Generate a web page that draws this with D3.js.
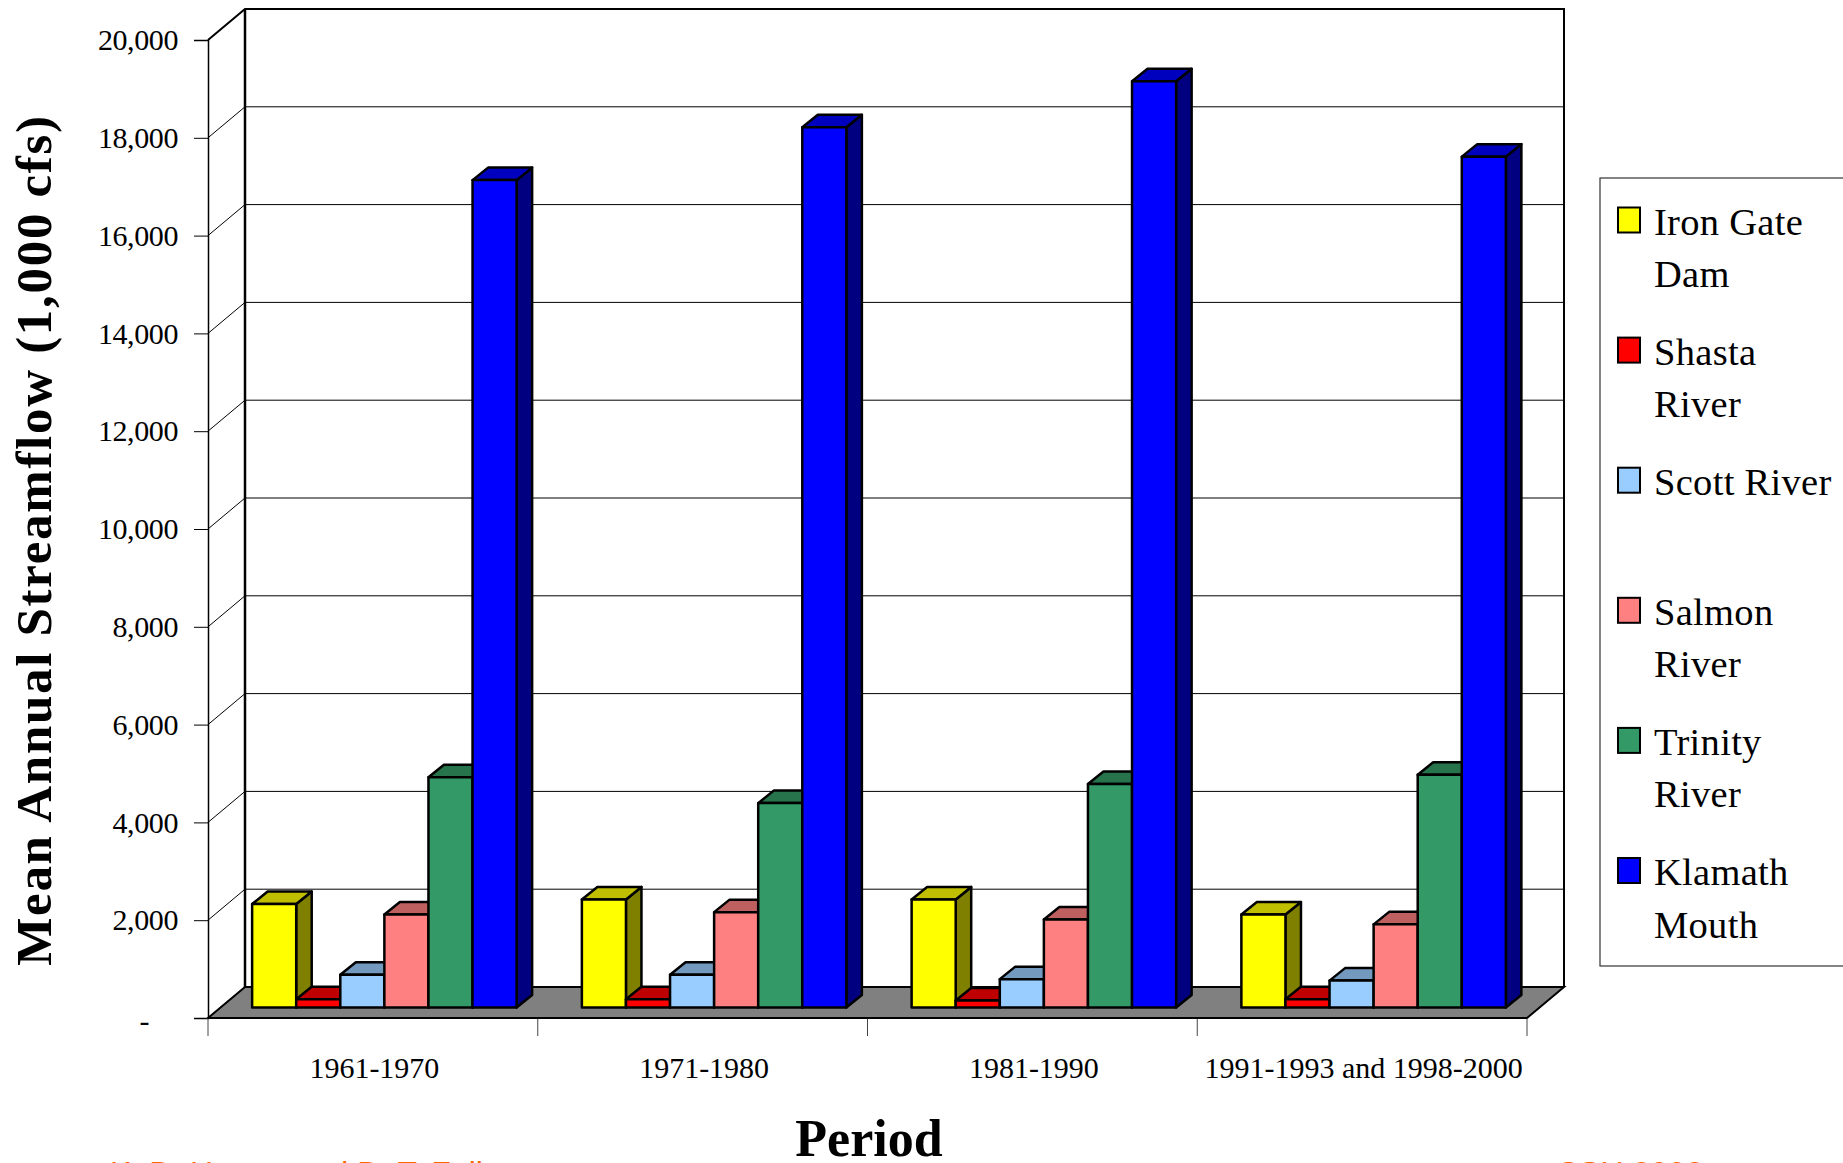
<!DOCTYPE html>
<html>
<head>
<meta charset="utf-8">
<style>
html, body { margin: 0; padding: 0; background: #fff; overflow: hidden; }
text { font-family: "Liberation Serif", serif; fill: #000; }
</style>
<script src="https://cdnjs.cloudflare.com/ajax/libs/d3/7.8.5/d3.min.js"></script>
</head>
<body>
<script>
var periods = ['1961-1970', '1971-1980', '1981-1990', '1991-1993 and 1998-2000'];
var rivers = ['Iron Gate Dam', 'Shasta River', 'Scott River', 'Salmon River', 'Trinity River', 'Klamath Mouth'];
var ironGate = [2115, 2210, 2210, 1900];
var shasta = [170, 170, 145, 170];
var scott = [670, 670, 580, 550];
var salmon = [1900, 1950, 1800, 1700];
var trinity = [4710, 4180, 4570, 4760];
var klamath = [16920, 18000, 18940, 17400];
var yTicks = [0, 2000, 4000, 6000, 8000, 10000, 12000, 14000, 16000, 18000, 20000];
var riverColors = ['#ffff00', '#ff0000', '#99ccff', '#ff8080', '#339966', '#0000ff'];
var legendLines = [['Iron Gate', 'Dam'], ['Shasta', 'River'], ['Scott River'], ['Salmon', 'River'], ['Trinity', 'River'], ['Klamath', 'Mouth']];

var allSeries = [ironGate, shasta, scott, salmon, trinity, klamath];

var width = 1843, height = 1163,
	plotLeft = 208, plotRight = 1527, plotBottom = 1018, plotTop = 40,
	wallDx = 37, wallDy = 31,
	barShiftX = 11.5, barShiftY = 10.5,
	barDx = 15.5, barDy = 12.5;

var svg = d3.select('body').append('svg').attr('width', width).attr('height', height);

var x = d3.scaleBand().domain(periods).range([plotLeft, plotRight]);
var xInner = d3.scaleBand().domain(rivers).range([0, x.bandwidth()]).paddingOuter(0.74).paddingInner(0);
var y = d3.scaleLinear().domain([0, 20000]).range([plotBottom, plotTop]);

// floor
svg.append('path').attr('d', d3.line()([[plotLeft, plotBottom], [plotLeft + wallDx, plotBottom - wallDy], [plotRight + wallDx, plotBottom - wallDy], [plotRight, plotBottom]]) + 'Z')
	.attr('fill', '#808080').attr('stroke', '#000').attr('stroke-width', 2);

// grid on side and back wall
var grid = svg.append('g');
grid.selectAll('polyline').data(yTicks.slice(1, -1)).enter().append('polyline')
	.attr('fill', 'none').attr('stroke', '#000').attr('stroke-width', 1)
	.attr('points', function(d) {
		return [[plotLeft, y(d)], [plotLeft + wallDx, y(d) - wallDy], [plotRight + wallDx, y(d) - wallDy]].join(' ');
	});

svg.append('path').attr('d', d3.line()([[plotLeft, plotTop], [plotLeft + wallDx, plotTop - wallDy], [plotRight + wallDx, plotTop - wallDy], [plotRight + wallDx, plotBottom - wallDy]]))
	.attr('fill', 'none').attr('stroke', '#000').attr('stroke-width', 2);
svg.append('line').attr('x1', plotLeft + wallDx).attr('x2', plotLeft + wallDx).attr('y1', plotTop - wallDy).attr('y2', plotBottom - wallDy)
	.attr('stroke', '#000').attr('stroke-width', 2.5);

// left axis
var yAxis = d3.axisLeft(y).tickValues(yTicks).tickSize(14).tickPadding(16)
	.tickFormat(function(d) { return d === 0 ? '-' : d3.format(',')(d); });
var yg = svg.append('g').attr('transform', 'translate(' + plotLeft + ',0)').call(yAxis);
yg.select('.domain').attr('stroke', '#000').attr('stroke-width', 1.5);
yg.selectAll('text').style('font-size', '30px').style('letter-spacing', '-0.4px').attr('dy', '0.32em');
yg.selectAll('.tick text').filter(function(d) { return d === 0; }).attr('x', -59).attr('dy', '0.4em');

// bottom axis
var xEdges = [plotLeft].concat(periods.map(function(p) { return x(p) + x.bandwidth(); }));
svg.append('g').selectAll('line').data(xEdges).enter().append('line')
	.attr('x1', function(d) { return d; }).attr('x2', function(d) { return d; })
	.attr('y1', plotBottom).attr('y2', plotBottom + 18)
	.attr('stroke', '#444').attr('stroke-width', 1);
svg.append('line').attr('x1', plotLeft).attr('x2', plotRight).attr('y1', plotBottom).attr('y2', plotBottom)
	.attr('stroke', '#000').attr('stroke-width', 1.5);

svg.append('g').selectAll('text').data(periods).enter().append('text')
	.attr('x', function(d) { return x(d) + x.bandwidth() / 2 + 1.5; })
	.attr('y', 1078)
	.attr('text-anchor', 'middle')
	.style('font-size', '30px')
	.text(function(d) { return d; });

// bars
var groups = svg.append('g').selectAll('g').data(periods).enter().append('g')
	.attr('transform', function(d) { return 'translate(' + (x(d) + barShiftX) + ',' + (-barShiftY) + ')'; });

rivers.forEach(function(river, s) {
	var bw = xInner.bandwidth(), bx = xInner(river), col = riverColors[s];
	var bar = groups.append('g').attr('stroke', '#000').attr('stroke-width', 2.5).attr('stroke-linejoin', 'round');
	var by = function(d, i) { return y(allSeries[s][i]); };
	// side face is half the colour, top face three quarters
	bar.append('path').attr('fill', d3.rgb(col).darker(1.943).formatHex())
		.attr('d', function(d, i) {
			var t = by(d, i);
			return d3.line()([[bx + bw, t], [bx + bw + barDx, t - barDy], [bx + bw + barDx, plotBottom - barDy], [bx + bw, plotBottom]]) + 'Z';
		});
	bar.append('path').attr('fill', d3.rgb(col).darker(0.807).formatHex())
		.attr('d', function(d, i) {
			var t = by(d, i);
			return d3.line()([[bx, t], [bx + barDx, t - barDy], [bx + bw + barDx, t - barDy], [bx + bw, t]]) + 'Z';
		});
	bar.append('rect').attr('fill', col)
		.attr('x', bx).attr('width', bw)
		.attr('y', function(d, i) { return by(d, i); })
		.attr('height', function(d, i) { return plotBottom - by(d, i); });
});

// titles
svg.append('text').attr('transform', 'translate(51,540) rotate(-90)')
	.attr('text-anchor', 'middle')
	.style('font-size', '51px').style('font-weight', 'bold').style('letter-spacing', '1.7px')
	.text('Mean Annual Streamflow (1,000 cfs)');
svg.append('text').attr('x', 869).attr('y', 1156).attr('text-anchor', 'middle')
	.style('font-size', '52px').style('font-weight', 'bold')
	.text('Period');

// legend
var legendX = 1600, legendTop = 178, legendBottom = 966;
svg.append('rect').attr('x', legendX).attr('y', legendTop).attr('width', width - legendX + 2).attr('height', legendBottom - legendTop)
	.attr('fill', '#fff').attr('stroke', '#333').attr('stroke-width', 1.2);
var legendY = d3.scalePoint().domain(rivers).range([222.5, 873]);
var legend = svg.append('g').selectAll('g').data(rivers).enter().append('g')
	.attr('transform', function(d) { return 'translate(0,' + legendY(d) + ')'; });
legend.append('rect').attr('x', 1618).attr('y', -15).attr('width', 22).attr('height', 25)
	.attr('fill', function(d, i) { return riverColors[i]; })
	.attr('stroke', '#000').attr('stroke-width', 2);
legend.each(function(d, i) {
	d3.select(this).selectAll('text').data(legendLines[i]).enter().append('text')
		.attr('x', 1654).attr('y', function(l, j) { return 12 + j * 52.5; })
		.style('font-size', '38.5px').style('letter-spacing', '0.3px')
		.text(function(l) { return l; });
});

// footer: only the top 3px show above the page edge, so these words are a guess from the letter tops
svg.append('text').attr('x', 110).attr('y', 1184).style('font-size', '32px').style('font-family', 'Liberation Sans').style('fill', '#ff6600')
	.text('K. D. Hunter and D. T. Fuller');
svg.append('text').attr('x', 1556).attr('y', 1184).style('font-size', '32px').style('font-family', 'Liberation Sans').style('fill', '#ff6600')
	.text('CSU 2002');
</script>
</body>
</html>
